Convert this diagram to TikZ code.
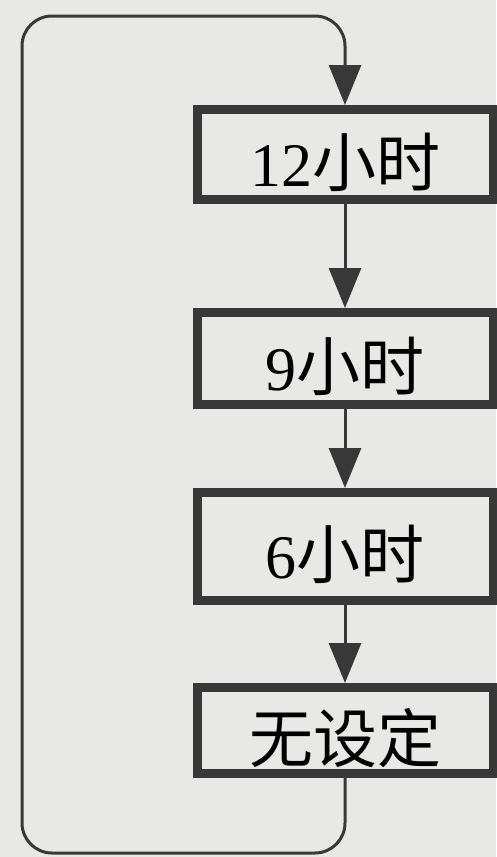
\documentclass[tikz,border=0pt]{standalone}
\usepackage{fontspec}
\setmainfont{Liberation Serif}
\newfontfamily\cjk{Noto Sans CJK SC}
\newcommand\zh[1]{{\cjk\fontsize{64}{64}\selectfont #1}}
\usetikzlibrary{arrows.meta}
\definecolor{paper}{HTML}{E8E8E6}
\definecolor{ink}{HTML}{383838}
\begin{document}
\begin{tikzpicture}[x=1pt,y=1pt,
  stage/.style={draw=ink, line width=9pt, rectangle, fill=paper, minimum width=296pt, inner sep=0pt, text height=64pt, text depth=0pt, font=\fontsize{62}{62}\selectfont},
  flow/.style={draw=ink, line width=3pt, -{Triangle[length=40pt,width=32pt]}},
]
\fill[paper] (0,0) rectangle (496,-857);
\useasboundingbox (0,0) rectangle (496,-857);
\node[stage, minimum height=90pt] (n1) at (345,-154.5) {12\zh{小时}};
\node[stage, minimum height=92pt] (n2) at (345,-358.5) {9\zh{小时}};
\node[stage, minimum height=108pt] (n3) at (345,-546.5) {6\zh{小时}};
\node[stage, minimum height=86pt] (n4) at (345,-730.5) {\zh{无设定}};
\draw[flow] (n1.south) -- (n2.north);
\draw[flow] (n2.south) -- (n3.north);
\draw[flow] (n3.south) -- (n4.north);
\coordinate (bl) at (22,-853);
\coordinate (tl) at (22,-16);
\draw[flow, rounded corners=30pt] (n4.south) |- (bl) -- (tl) -| (n1.north);
\end{tikzpicture}
\end{document}
